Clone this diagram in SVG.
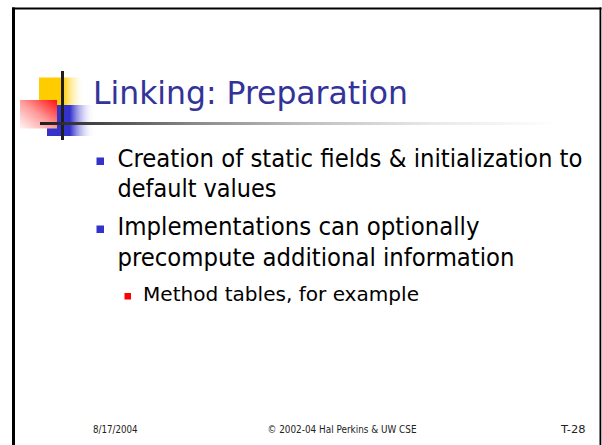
<svg xmlns="http://www.w3.org/2000/svg" width="602" height="445" viewBox="0 0 602 445">
  <defs>
    <linearGradient id="gradYellow" x1="0" y1="0" x2="1" y2="0">
      <stop offset="0" stop-color="#ffcc00"/>
      <stop offset="0.52" stop-color="#ffcc00"/>
      <stop offset="1" stop-color="#ffffff" stop-opacity="0"/>
    </linearGradient>
    <linearGradient id="gradBlue" x1="0" y1="0" x2="1" y2="0">
      <stop offset="0" stop-color="#3333cc"/>
      <stop offset="0.48" stop-color="#3333cc"/>
      <stop offset="1" stop-color="#ffffff" stop-opacity="0"/>
    </linearGradient>
    <linearGradient id="gradRed" x1="1" y1="0" x2="0" y2="1">
      <stop offset="0" stop-color="#ff1010"/>
      <stop offset="0.5" stop-color="#ff9a9a"/>
      <stop offset="1" stop-color="#fff6f6"/>
    </linearGradient>
    <linearGradient id="gradRule" gradientUnits="userSpaceOnUse" x1="40" y1="0" x2="560" y2="0">
      <stop offset="0" stop-color="#1e1e1e"/>
      <stop offset="0.3" stop-color="#8a8a8a"/>
      <stop offset="0.5" stop-color="#bdbdbd"/>
      <stop offset="0.75" stop-color="#e8e8e8"/>
      <stop offset="1" stop-color="#ffffff"/>
    </linearGradient>
  </defs>
  <style>
    .body { font-family: "DejaVu Sans Condensed", "DejaVu Sans", "Liberation Sans", sans-serif; font-stretch: condensed; fill: #000000; }
    .title { font-family: "DejaVu Sans Condensed", "DejaVu Sans", "Liberation Sans", sans-serif; font-stretch: condensed; fill: #333399; font-size: 32px; }
    .lvl1 { font-size: 24px; }
    .lvl2 { font-size: 20px; }
    .foot { font-family: "DejaVu Sans Condensed", "DejaVu Sans", "Liberation Sans", sans-serif; font-stretch: condensed; font-size: 10px; fill: #222222; }
    .b1 { fill: #3333cc; }
    .b2 { fill: #ff0000; }
  </style>

  <rect width="602" height="445" fill="#ffffff"/>

  <!-- slide frame -->
  <g id="frame" fill="#000000">
    <rect x="12" y="7.5" width="3" height="437.5"/>
    <rect x="12" y="7.5" width="589.5" height="2"/>
    <rect x="599.5" y="7.5" width="1.8" height="437.5"/>
  </g>

  <!-- title ornament -->
  <g id="logo">
    <rect x="39" y="77.5" width="46" height="28" fill="url(#gradYellow)"/>
    <rect x="47" y="105" width="48" height="31" fill="url(#gradBlue)"/>
    <rect x="20" y="100" width="37" height="28.5" fill="url(#gradRed)"/>
    <rect x="61" y="71" width="3" height="69" fill="#1e1e1e"/>
  </g>
  <rect id="title-rule" x="40" y="122" width="520" height="3" fill="url(#gradRule)"/>

  <g id="title">
    <text class="title" x="93" y="104" textLength="315" lengthAdjust="spacingAndGlyphs">Linking: Preparation</text>
  </g>

  <!-- bullet list -->
  <g id="bullets">
    <rect class="b1" x="96.5" y="157.5" width="7.5" height="7.5"/>
    <text class="body lvl1" x="117.5" y="167" textLength="465" lengthAdjust="spacingAndGlyphs">Creation of static fields &amp; initialization to</text>
    <text class="body lvl1" x="117.5" y="197" textLength="159" lengthAdjust="spacingAndGlyphs">default values</text>

    <rect class="b1" x="96.5" y="225.5" width="7.5" height="7.5"/>
    <text class="body lvl1" x="117.5" y="235" textLength="362" lengthAdjust="spacingAndGlyphs">Implementations can optionally</text>
    <text class="body lvl1" x="117.5" y="266" textLength="397" lengthAdjust="spacingAndGlyphs">precompute additional information</text>

    <rect class="b2" x="124.5" y="293" width="6.5" height="6.5"/>
    <text class="body lvl2" x="143" y="300.5" textLength="276" lengthAdjust="spacingAndGlyphs">Method tables, for example</text>
  </g>

  <!-- footer -->
  <g id="footer">
    <text class="foot" x="93" y="433" textLength="44.5" lengthAdjust="spacingAndGlyphs">8/17/2004</text>
    <text class="foot" x="267.5" y="433" textLength="149" lengthAdjust="spacingAndGlyphs">© 2002-04 Hal Perkins &amp; UW CSE</text>
    <text class="foot" x="561" y="433" textLength="24.5" lengthAdjust="spacingAndGlyphs">T-28</text>
  </g>
</svg>
